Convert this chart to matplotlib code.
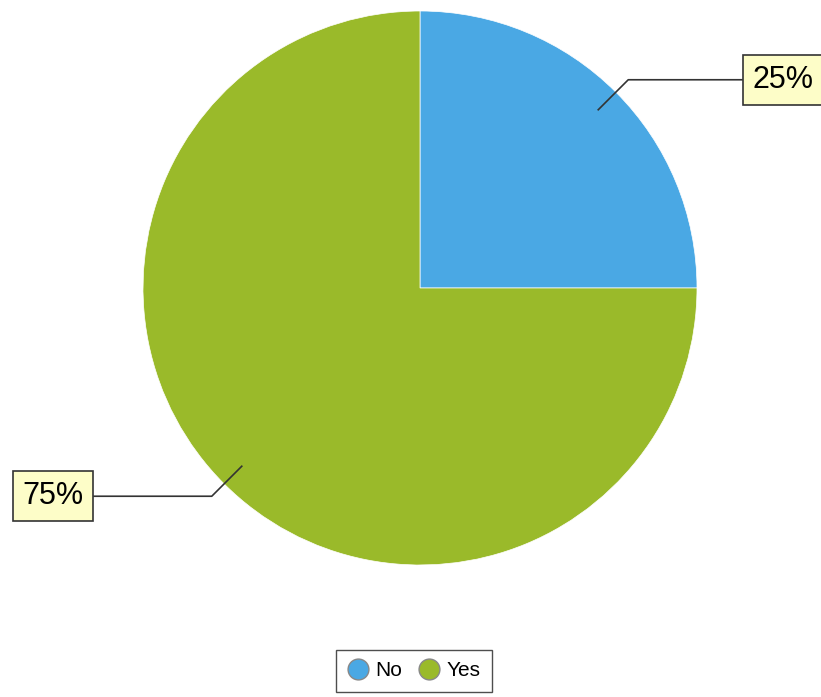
import numpy as np
import matplotlib.pyplot as plt
from matplotlib.lines import Line2D

labels = ['No', 'Yes']
values = [25, 75]
colors = ['#4aa8e4', '#9aba2a']

W, H = 821, 697
fig = plt.figure(figsize=(W / 100, H / 100), dpi=100)
ax = fig.add_axes([0, 0, 1, 1])

cx, cy, r = 420, H - 288, 277
wedges, _ = ax.pie(values, colors=colors, startangle=90, counterclock=False,
                   center=(cx, cy), radius=r, frame=True,
                   wedgeprops=dict(edgecolor='white', linewidth=0.5))
ax.set_xlim(0, W)
ax.set_ylim(0, H)
ax.set_aspect('equal')
ax.axis('off')

# leader lines + boxed percentage labels
box_pos = [(783, H - 80), (53, H - 492)]
total = sum(values)
for w, v, (bx, by) in zip(wedges, values, box_pos):
    ang = np.deg2rad((w.theta1 + w.theta2) / 2)
    px, py = cx + 0.91 * r * np.cos(ang), cy + 0.91 * r * np.sin(ang)
    sgn = np.sign(np.cos(ang))
    ex, ey = px + 30 * sgn, py + 30 * np.sign(np.sin(ang))
    edge = bx - 41 * sgn
    ax.plot([px, ex, edge], [py, ey, ey], color='#333333', lw=1.2)
    ax.text(bx, ey, f'{v / total * 100:.0f}%', fontsize=22, family='Liberation Sans',
            ha='center', va='center',
            bbox=dict(boxstyle='square,pad=0.32', fc='#fdfdc8', ec='#333333', lw=1.2))

handles = [Line2D([], [], marker='o', ls='', markersize=15, markerfacecolor=c,
                  markeredgecolor='#888888') for c in colors]
fig.legend(handles, labels, loc='center', bbox_to_anchor=(414 / W, 1 - 671 / H),
           ncol=2, frameon=True, fancybox=False, edgecolor='#222222',
           handlelength=1.0, handletextpad=0.35, columnspacing=0.8, borderpad=0.55,
           prop={'family': 'Liberation Sans', 'size': 15})

fig.savefig('out.png', dpi=100)
